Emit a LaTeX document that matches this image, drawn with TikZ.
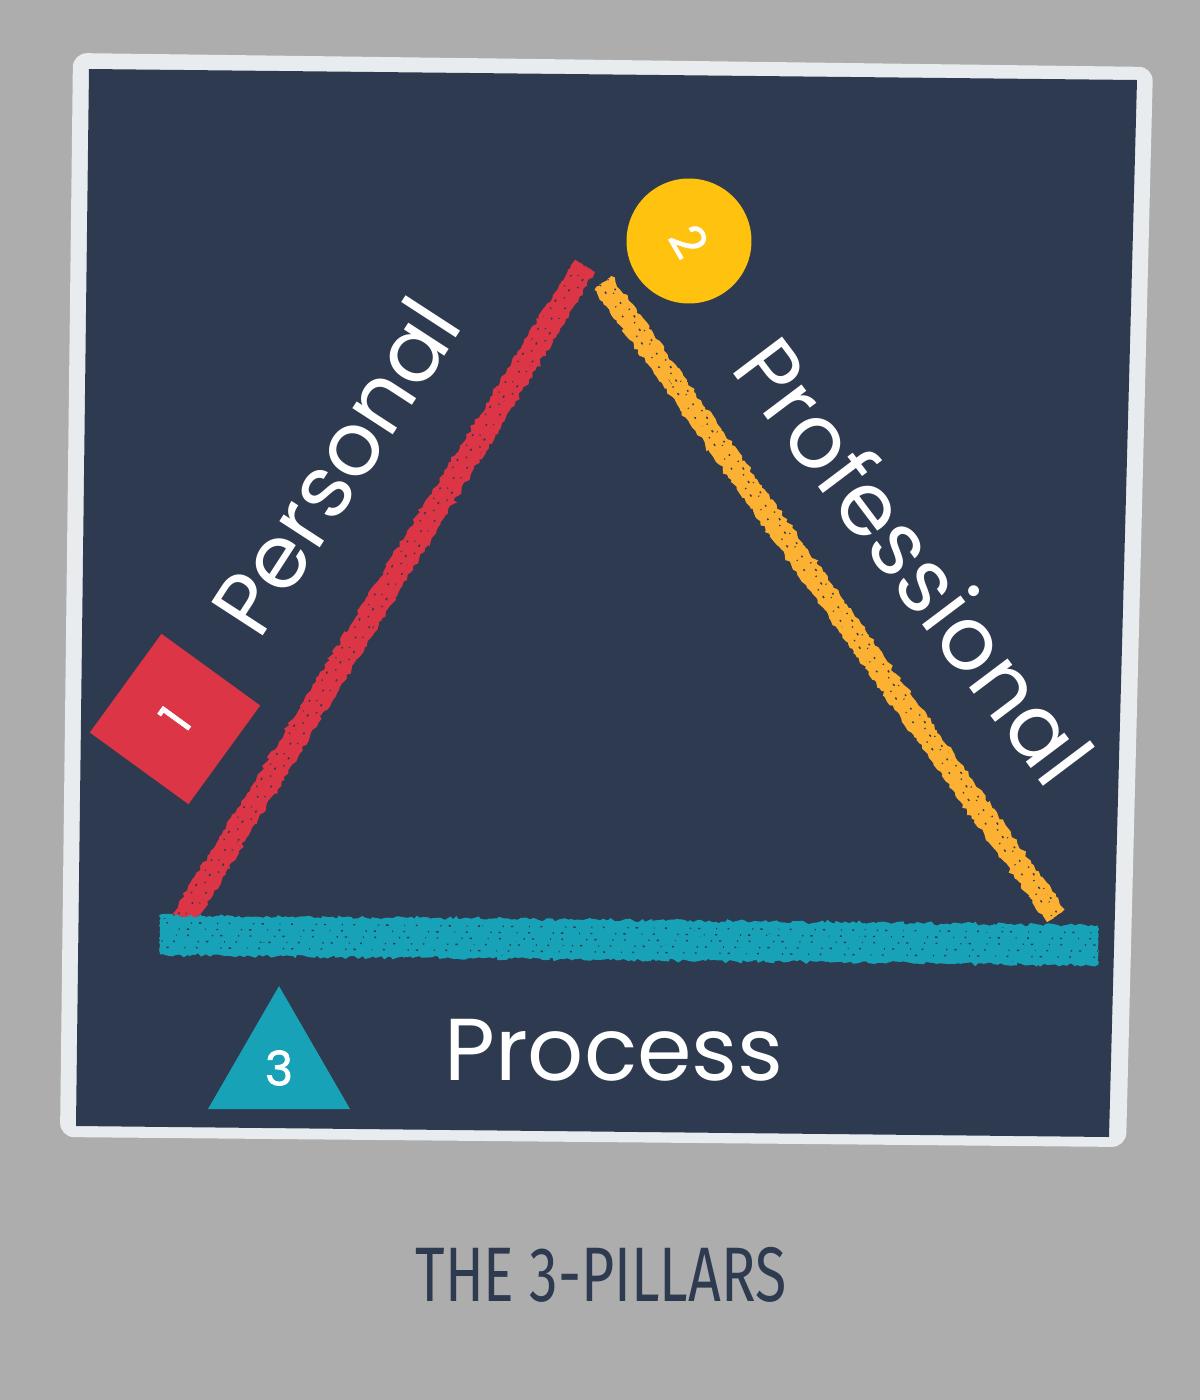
\documentclass[tikz,border=0pt]{standalone}
\usepackage{fontspec}
\setmainfont{Poppins}
\newfontfamily\capfont{Fira Sans}
\newfontfamily\badgefont{Poppins}[FakeBold=1.5]
\usetikzlibrary{shapes.geometric,calc,decorations.pathmorphing}
\definecolor{bggray}{HTML}{ADADAD}
\definecolor{framegray}{HTML}{E8ECEF}
\definecolor{board}{HTML}{2E3A4F}
\definecolor{pred}{HTML}{DC3545}
\definecolor{pyellow}{HTML}{FFC20E}
\definecolor{porange}{HTML}{FDB133}
\definecolor{pteal}{HTML}{17A2B8}

\begin{document}
\begin{tikzpicture}[x=0.02cm, y=-0.02cm,
    chalk/.style={line width=2.4pt, decorate,
      decoration={random steps, segment length=2pt, amplitude=1.1pt}},
    speck/.style={board, line width=0.8pt,
      dash pattern=on 0.7pt off 4pt on 1.3pt off 9pt on 0.5pt off 6pt on 1pt off 13pt},
    labeltext/.style={text=white, font=\fontsize{50}{52}\selectfont, inner sep=0pt},
    badgetext/.style={text=white, font=\badgefont\fontsize{27}{29}\selectfont}]
    \useasboundingbox (0,0) rectangle (1200,1400);
    % background, frame and board
    \fill[bggray] (0,0) rectangle (1200,1400);
    \fill[framegray, rounded corners=8pt] (73,53) -- (1153,67) -- (1126,1147) -- (60,1137) -- cycle;
    \fill[board] (89,69) -- (1137,80) -- (1109,1137) -- (76,1126) -- cycle;

    % corners of the triangle
    \coordinate (left) at (183,920);
    \coordinate (apex) at (585,266);
    \coordinate (apexr) at (603,283);
    \coordinate (right) at (1056,916);
    \coordinate (baseL) at (160,935);
    \coordinate (baseR) at (1098,945);

    % chalk edges
    \foreach \o in {-5,-4,...,5}
      \draw[chalk, porange] ($(apexr)!\o pt!90:(right)$) -- ($(right)!\o pt!-90:(apexr)$);
    \foreach \o/\p in {-2/0,1.5/7,3.5/15}
      \draw[speck, dash phase=\p pt] ($(apexr)!\o pt!90:(right)$) -- ($(right)!\o pt!-90:(apexr)$);
    \foreach \o in {-5.5,-4.5,...,5.5}
      \draw[chalk, pred] ($(left)!\o pt!90:(apex)$) -- ($(apex)!\o pt!-90:(left)$);
    \foreach \o/\p in {-3/2,0.5/11,4/20}
      \draw[speck, dash phase=\p pt] ($(left)!\o pt!90:(apex)$) -- ($(apex)!\o pt!-90:(left)$);
    \foreach \o in {-10,-9,...,10}
      \draw[chalk, pteal] ($(baseL)!\o pt!90:(baseR)$) -- ($(baseR)!\o pt!-90:(baseL)$);
    \foreach \o/\p in {-7/1,-3.5/14,0/6,3.5/25,7/18}
      \draw[speck, dash phase=\p pt] ($(baseL)!\o pt!90:(baseR)$) -- ($(baseR)!\o pt!-90:(baseL)$);

    % numbered badges
    \node[rectangle, fill=pred, minimum size=2.44cm, rotate=54, badgetext] (one) at (175,719) {1};
    \node[circle, fill=pyellow, minimum size=2.5cm, rotate=-60, badgetext] (two) at (689,241) {2};
    \node[regular polygon, regular polygon sides=3, fill=pteal, minimum size=3.28cm,
          inner sep=0pt, badgetext] (three) at (279,1068) {3};

    % pillar names
    \node[labeltext, rotate=57] (personal) at (335,466) {Personal};
    \node[labeltext, rotate=-53] (professional) at (915,560) {Professional};
    \node[labeltext] (process) at (614,1050) {Process};

    \node[text=board, font=\capfont\fontsize{44}{46}\selectfont, xscale=0.74] (caption) at (601,1275) {THE 3-PILLARS};
\end{tikzpicture}
\end{document}
